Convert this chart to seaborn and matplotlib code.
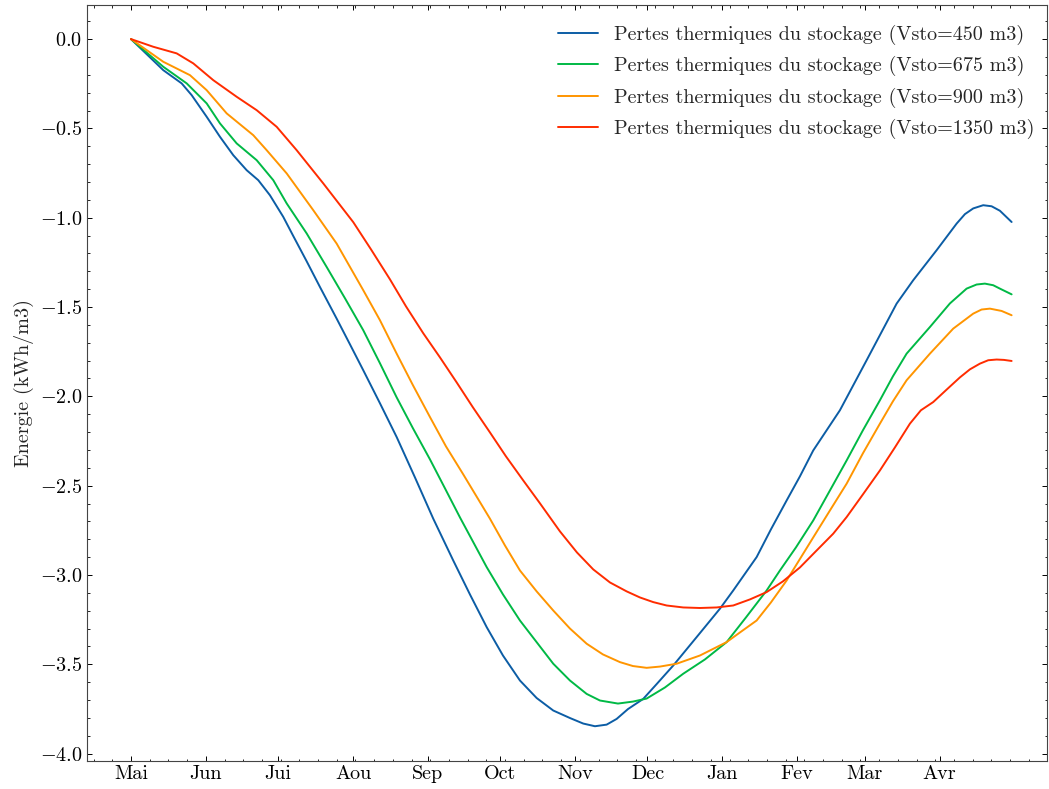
import matplotlib
matplotlib.use('Agg')
import matplotlib.pyplot as plt
import pandas as pd
import seaborn as sns

# jours depuis le 1er mai, energie en kWh/m3
jours_450 = [0, 13.38, 21.00, 25.15, 31.36, 36.87, 42.38, 47.93, 52.74, 57.56, 63.08, 67.22, 72.79,
             78.30, 85.22, 90.73, 96.24, 103.16, 110.08, 117.66, 125.24, 133.52, 140.44, 147.37,
             154.12, 161.16, 168.08, 174.96, 181.88, 187.39, 192.24, 197.08, 201.23, 205.91,
             212.24, 217.80, 224.68, 234.37, 244.02, 249.53, 259.23, 265.15, 271.66,
             277.17, 282.68, 293.74, 304.80, 317.23, 324.11, 333.80, 342.09, 345.53, 348.97,
             353.11, 356.59, 360.03, 364.88]
e_450 = [0, -0.174, -0.248, -0.314, -0.435, -0.547, -0.650, -0.734, -0.790, -0.874, -0.995, -1.102,
         -1.244, -1.388, -1.565, -1.709, -1.854, -2.039, -2.228, -2.454, -2.685, -2.919, -3.109,
         -3.292, -3.451, -3.591, -3.689, -3.759, -3.801, -3.832, -3.847, -3.838, -3.806, -3.751,
         -3.694, -3.611, -3.507, -3.348, -3.189, -3.087, -2.900, -2.745, -2.583, -2.448,
         -2.303, -2.078, -1.798, -1.481, -1.350, -1.182, -1.033, -0.980, -0.948, -0.930, -0.936,
         -0.961, -1.024]

jours_675 = [0, 13.38, 23.08, 31.36, 36.87, 43.79, 52.08, 58.96, 64.51, 72.79, 81.08, 88.66, 96.24,
             103.16, 110.08, 116.83, 123.88, 130.09, 136.31, 147.37, 154.12, 161.16, 174.96,
             181.88, 188.80, 194.31, 201.77, 207.98, 213.66, 221.24, 228.82, 237.81, 246.80,
             254.80, 263.37, 268.88, 275.51, 282.68, 289.60, 296.52, 303.27, 310.31, 315.70,
             321.37, 331.03, 339.31, 346.23, 350.37, 353.81, 357.25, 360.03, 364.88]
e_675 = [0, -0.155, -0.248, -0.360, -0.472, -0.584, -0.678, -0.790, -0.920, -1.088, -1.276, -1.451,
         -1.630, -1.815, -2.006, -2.179, -2.353, -2.515, -2.678, -2.956, -3.109, -3.255, -3.497,
         -3.591, -3.666, -3.703, -3.720, -3.709, -3.692, -3.630, -3.553, -3.473, -3.376, -3.238,
         -3.087, -2.975, -2.846, -2.695, -2.527, -2.359, -2.190, -2.022, -1.888, -1.761, -1.612,
         -1.480, -1.397, -1.374, -1.369, -1.378, -1.397, -1.429]

jours_900 = [0, 13.38, 24.44, 31.36, 39.65, 50.67, 56.22, 64.51, 75.53, 85.22, 96.24, 103.16,
             110.08, 116.83, 123.88, 130.50, 137.67, 148.73, 154.95, 161.16, 168.08, 174.96,
             181.88, 188.80, 195.55, 202.59, 207.98, 213.66, 219.17, 226.09, 235.74, 246.80,
             252.31, 259.23, 265.15, 271.66, 282.68, 289.60, 296.52, 303.27, 310.31, 315.70,
             321.37, 331.03, 340.68, 348.97, 352.45, 355.89, 360.74, 364.88]
e_900 = [0, -0.127, -0.202, -0.286, -0.416, -0.538, -0.622, -0.752, -0.958, -1.145, -1.406, -1.574,
         -1.761, -1.938, -2.116, -2.280, -2.437, -2.685, -2.835, -2.975, -3.092, -3.199, -3.300,
         -3.385, -3.445, -3.488, -3.510, -3.520, -3.513, -3.497, -3.451, -3.376, -3.322, -3.255,
         -3.154, -3.031, -2.790, -2.639, -2.489, -2.319, -2.153, -2.028, -1.910, -1.761, -1.621,
         -1.537, -1.514, -1.509, -1.522, -1.546]

jours_1350 = [0, 9.24, 18.93, 25.81, 34.10, 43.79, 52.08, 60.36, 68.65, 79.67, 92.10, 99.43,
              107.30, 113.93, 121.10, 128.02, 134.94, 141.69, 148.73, 155.36, 162.53, 169.45,
              177.73, 184.78, 191.53, 198.45, 205.37, 210.88, 216.39, 221.94, 228.82, 235.74,
              242.66, 249.53, 256.46, 263.37, 270.12, 277.17, 284.09, 290.96, 296.52, 303.27,
              310.31, 316.53, 322.74, 327.30, 332.40, 337.66, 343.46, 347.60, 351.74, 355.18,
              358.66, 361.68, 364.88]
e_1350 = [0, -0.043, -0.080, -0.136, -0.230, -0.323, -0.398, -0.491, -0.622, -0.808, -1.025, -1.177,
          -1.345, -1.496, -1.647, -1.782, -1.922, -2.062, -2.202, -2.336, -2.471, -2.599, -2.756,
          -2.874, -2.969, -3.042, -3.092, -3.126, -3.152, -3.171, -3.182, -3.185, -3.182, -3.171,
          -3.137, -3.096, -3.036, -2.958, -2.863, -2.769, -2.676, -2.549, -2.415, -2.286, -2.153,
          -2.078, -2.032, -1.966, -1.894, -1.849, -1.817, -1.798, -1.794, -1.796, -1.802]

labels = ['Pertes thermiques du stockage (Vsto=450 m3)',
          'Pertes thermiques du stockage (Vsto=675 m3)',
          'Pertes thermiques du stockage (Vsto=900 m3)',
          'Pertes thermiques du stockage (Vsto=1350 m3)']
colors = ['#0C5DA5', '#00B945', '#FF9500', '#FF2C00']

mois_pos = [0, 31, 61, 92, 123, 153, 184, 214, 245, 276, 304, 335]
mois = ['Mai', 'Jun', 'Jui', 'Aou', 'Sep', 'Oct', 'Nov', 'Dec', 'Jan', 'Fev', 'Mar', 'Avr']

if __name__ == '__main__':
    sns.set_style('ticks')
    plt.rcParams['font.family'] = 'serif'
    plt.rcParams['font.serif'] = ['cmr10']
    plt.rcParams['mathtext.fontset'] = 'cm'
    plt.rcParams['axes.formatter.use_mathtext'] = True
    plt.rcParams['font.size'] = 14.5
    plt.rcParams['axes.linewidth'] = 0.8
    plt.rcParams['axes.edgecolor'] = '#444444'
    for ax_ in ['xtick', 'ytick']:
        plt.rcParams[ax_ + '.direction'] = 'in'
        plt.rcParams[ax_ + '.major.size'] = 3.6
        plt.rcParams[ax_ + '.minor.size'] = 1.8
        plt.rcParams[ax_ + '.major.width'] = 0.7
        plt.rcParams[ax_ + '.minor.width'] = 0.6
        plt.rcParams[ax_ + '.minor.visible'] = True
        plt.rcParams[ax_ + '.labelsize'] = 14.5
        plt.rcParams[ax_ + '.color'] = 'black'
    plt.rcParams['xtick.top'] = True
    plt.rcParams['ytick.right'] = True

    frames = []
    for j, e, lab in zip([jours_450, jours_675, jours_900, jours_1350],
                         [e_450, e_675, e_900, e_1350], labels):
        frames.append(pd.DataFrame({'jour': j, 'energie': e, 'serie': lab}))
    df = pd.concat(frames, ignore_index=True)

    fig = plt.figure(figsize=(10.49, 7.89), dpi=100)
    ax = fig.add_axes([0.083, 0.036, 0.915, 0.958])

    sns.lineplot(data=df, x='jour', y='energie', hue='serie', hue_order=labels,
                 palette=colors, estimator=None, sort=False, linewidth=1.4, ax=ax)

    ax.set_xlim(-18.2, 379.5)
    ax.set_xticks(mois_pos)
    ax.set_xticklabels(mois)
    ax.set_xlabel('')
    ax.set_ylabel('Energie (kWh/m3)')
    ax.tick_params(axis='both', which='both', top=True, right=True, direction='in')

    leg = ax.legend(loc='upper right', bbox_to_anchor=(1.0, 0.989), frameon=False,
                    fontsize=14.5, handlelength=2.0, borderaxespad=0.2, labelspacing=0.55)
    for line in leg.get_lines():
        line.set_linewidth(1.4)

    fig.savefig('out.png', dpi=100)
